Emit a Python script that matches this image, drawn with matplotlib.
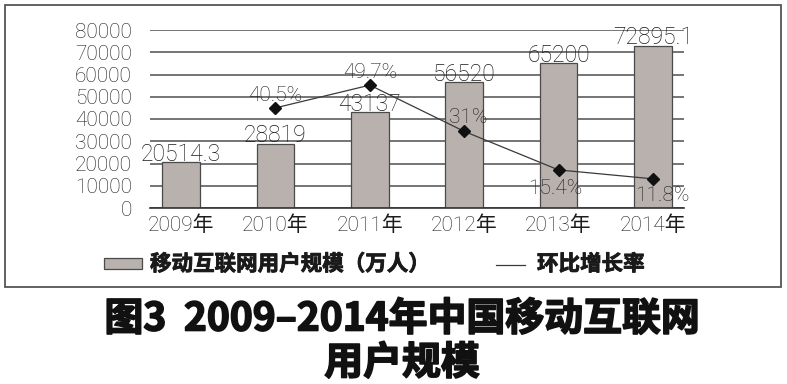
import matplotlib
matplotlib.use("Agg")
import matplotlib.pyplot as plt
from matplotlib.patches import Rectangle
from matplotlib.lines import Line2D
import matplotlib.patheffects as pe

years = ["2009年", "2010年", "2011年", "2012年", "2013年", "2014年"]
users = [20514.3, 28819, 43137, 56520, 65200, 72895.1]
user_labels = ["20514.3", "28819", "43137", "56520", "65200", "72895.1"]
growth_years = [1, 2, 3, 4, 5]
growth = [40.5, 49.7, 31, 15.4, 11.8]
growth_labels = ["40.5%", "49.7%", "31%", "15.4%", "11.8%"]
yticks = [0, 10000, 20000, 30000, 40000, 50000, 60000, 70000, 80000]

NUM_FONT = ["Roboto", "Noto Sans CJK SC", "DejaVu Sans"]
CJK_BOLD = ["Noto Sans CJK SC", "DejaVu Sans"]
TXT = "#1c1c1c"
NW = "light"

fig = plt.figure(figsize=(7.87, 3.84), dpi=100)
W, H = 787, 384

def fx(px):
    return px / W

def fy(py):
    return 1 - py / H

ax = fig.add_axes([fx(150), fy(208), fx(684) - fx(150), fy(30) - fy(208)])
x = list(range(len(years)))
ax.bar(x, users, width=0.4, color="#b8b1ae", edgecolor="#4a4a4a", linewidth=0.9, zorder=3)
ax.set_xlim(-0.33, 5.33)
ax.set_ylim(0, 80000)
ax.set_yticks(yticks)
ax.set_yticklabels([str(v) for v in yticks], family=NUM_FONT, fontweight=NW, fontsize=15, color=TXT)
ax.set_xticks(x)
ax.set_xticklabels(years, family=NUM_FONT, fontweight=NW, fontsize=15, color=TXT)
ax.tick_params(axis="y", length=0, pad=13)
ax.tick_params(axis="x", length=0, pad=5)
ax.grid(axis="y", color="#505050", linewidth=1.1, zorder=0)
for s in ["top", "right", "left"]:
    ax.spines[s].set_visible(False)
ax.spines["bottom"].set_color("#333333")
ax.spines["bottom"].set_linewidth(1.2)
ax.spines["bottom"].set_zorder(4)

for xi, v, lab in zip(x, users, user_labels):
    ax.annotate(lab, (xi, v), xytext=(0, 1), textcoords="offset points", ha="center", va="baseline",
                family=NUM_FONT, fontweight=NW, fontsize=16.5, color=TXT, zorder=6)

ax2 = ax.twinx()
ax2.set_ylim(0, 72)
ax2.axis("off")
ax2.plot(growth_years, growth, color="#3a3a3a", linewidth=0.9, marker="D", markersize=6.5,
         markerfacecolor="#111111", markeredgecolor="#111111", zorder=5)
offsets = [(0, 5), (0, 5), (3, 6), (-2, -17), (7, -16)]
for xi, v, lab, off in zip(growth_years, growth, growth_labels, offsets):
    ax2.annotate(lab, (xi, v), xytext=off, textcoords="offset points", ha="center", va="baseline",
                 family=NUM_FONT, fontweight=NW, fontsize=15, color=TXT, zorder=6)

# outer frame
fig.add_artist(Rectangle((fx(5), fy(287)), fx(781) - fx(5), fy(5) - fy(287), transform=fig.transFigure,
                         fill=False, edgecolor="#555555", linewidth=1.3))

# legend
bold_fx = [pe.withStroke(linewidth=0.6, foreground="#1a1a1a")]
fig.add_artist(Rectangle((fx(104), fy(269)), fx(142) - fx(104), fy(258) - fy(269), transform=fig.transFigure,
                         facecolor="#b8b1ae", edgecolor="#4a4a4a", linewidth=0.9))
fig.text(fx(150), fy(264), "移动互联网用户规模（万人）", family=CJK_BOLD, fontweight="bold", fontsize=15.5,
         color="#1a1a1a", ha="left", va="center", path_effects=bold_fx)
fig.add_artist(Line2D([fx(496), fx(525)], [fy(265), fy(265)], transform=fig.transFigure,
                      color="#3a3a3a", linewidth=0.9))
fig.text(fx(537), fy(264), "环比增长率", family=CJK_BOLD, fontweight="bold", fontsize=15.5,
         color="#1a1a1a", ha="left", va="center", path_effects=bold_fx)

# title
title_fx = [pe.withStroke(linewidth=1.2, foreground="#111111")]
fig.text(fx(402), fy(319), "图3  2009–2014年中国移动互联网", family=CJK_BOLD, fontweight="bold",
         fontsize=28, color="#111111", ha="center", va="center", path_effects=title_fx)
fig.text(fx(402), fy(363), "用户规模", family=CJK_BOLD, fontweight="bold",
         fontsize=28, color="#111111", ha="center", va="center", path_effects=title_fx)

fig.savefig("out.png", dpi=100)
